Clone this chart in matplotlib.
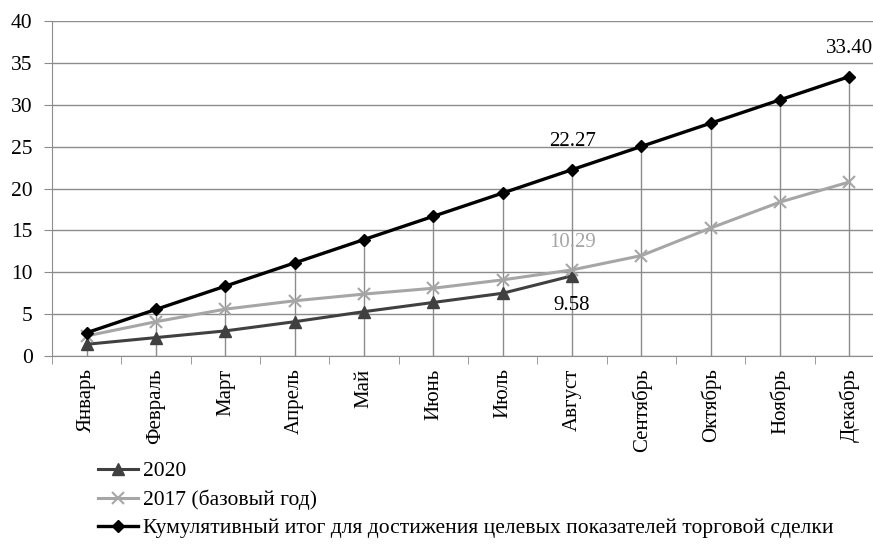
import matplotlib.pyplot as plt
import numpy as np

plt.rcParams['font.family'] = ['Liberation Serif', 'DejaVu Serif']

months = ["Январь", "Февраль", "Март", "Апрель", "Май", "Июнь",
          "Июль", "Август", "Сентябрь", "Октябрь", "Ноябрь", "Декабрь"]

y2020 = [1.4, 2.2, 3.0, 4.1, 5.3, 6.4, 7.5, 9.58]
y2017 = [2.4, 4.1, 5.6, 6.6, 7.4, 8.1, 9.1, 10.29, 12.0, 15.3, 18.4, 20.8]
target = [2.78, 5.57, 8.35, 11.13, 13.92, 16.70, 19.48, 22.27, 25.05, 27.83, 30.62, 33.40]

x = np.arange(len(months))

fig = plt.figure(figsize=(8.73, 5.44), dpi=100)
ax = fig.add_axes([0.0596, 0.3456, 0.9404, 0.6152])

ax.set_ylim(0, 40)
ax.set_yticks(range(0, 41, 5))
ax.set_xlim(-0.5, 11.34)
ax.grid(axis='y', color='#8c8c8c', linewidth=1)
ax.set_axisbelow(True)

# drop lines from the axis to the highest series
ax.vlines(x, 0, target, color='#8c8c8c', linewidth=1, zorder=1)

l1, = ax.plot(x[:len(y2020)], y2020, color='#404040', linewidth=2.2,
              marker='^', markersize=9, label="2020", zorder=3)
l2, = ax.plot(x, y2017, color='#a6a6a6', linewidth=2.2,
              marker='x', markersize=9, markeredgewidth=1.5,
              label="2017 (базовый год)", zorder=3)
l3, = ax.plot(x, target, color='black', linewidth=2.4,
              marker='D', markersize=6.5,
              label="Кумулятивный итог для достижения целевых показателей торговой сделки",
              zorder=4)

fs = 15
ax.annotate(f"{target[7]:.2f}", (x[7], target[7]), xytext=(0, 20),
            textcoords='offset points', ha='center', va='center', fontsize=fs)
ax.annotate(f"{target[11]:.2f}", (x[11], target[11]), xytext=(0, 20),
            textcoords='offset points', ha='center', va='center', fontsize=fs)
ax.annotate(f"{y2017[7]:.2f}", (x[7], y2017[7]), xytext=(0, 20),
            textcoords='offset points', ha='center', va='center', fontsize=fs,
            color='#a6a6a6')
ax.annotate(f"{y2020[7]:.2f}", (x[7], y2020[7]), xytext=(0, -21.5),
            textcoords='offset points', ha='center', va='center', fontsize=fs)

for s in ['top', 'right']:
    ax.spines[s].set_visible(False)
for s in ['left', 'bottom']:
    ax.spines[s].set_color('#8c8c8c')

ax.set_xticks(x)
ax.set_xticklabels(months, rotation=90, fontsize=fs)
ax.tick_params(axis='x', length=0, pad=9)
ax.set_xticks(np.arange(-0.5, 11.5, 1), minor=True)
ax.tick_params(axis='x', which='minor', length=6, color='#8c8c8c')
ax.tick_params(axis='y', labelsize=15.5, length=6, color='#8c8c8c', pad=8)

fig.legend(handles=[l1, l2, l3], loc='upper left', bbox_to_anchor=(0.1123, 0.152),
           frameon=False, fontsize=15.5, handlelength=1.85, handletextpad=0.25,
           labelspacing=0.38, borderpad=0, borderaxespad=0)

fig.savefig("out.png", dpi=100)
